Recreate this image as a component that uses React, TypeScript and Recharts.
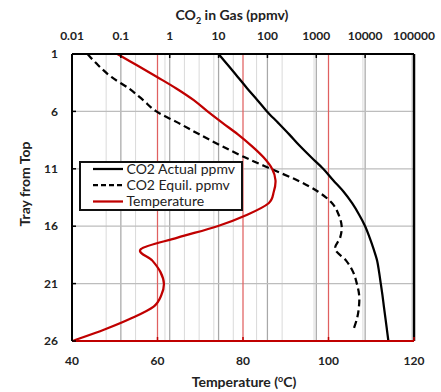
import React from 'react';
import { LineChart, Line, XAxis, YAxis, CartesianGrid, ReferenceLine, Legend } from 'recharts';

// Tray numbers (1 = top tray)
const trays = [1, 2, 3, 4, 5, 6, 7, 8, 9, 10, 11, 12, 13, 14, 15, 16, 17, 18, 19, 20, 21, 22, 23, 24, 25, 26];

// CO2 actual in gas, ppmv (trays 1-26)
const co2Actual = [10, 15.8, 24.7, 38.6, 61.8, 97.7, 166, 279, 458, 787, 1384, 2218, 3631, 5420, 7540, 10000, 12360, 14930, 17600, 19300, 20900, 22600, 24200, 26000, 27900, 29900];

// CO2 equilibrium, ppmv (trays 1-25)
const co2Equil = [0.0207, 0.0347, 0.064, 0.146, 0.282, 0.532, 1.5, 4.03, 11.4, 34.4, 117, 406, 1094, 2113, 2871, 3311, 3083, 2438, 4083, 5688, 6761, 7540, 7470, 6860, 5770];

// Temperature, degC (trays 1-26)
const temperature = [50.6, 55.3, 59.9, 64.4, 68.4, 71.7, 75.2, 78.8, 82.0, 84.8, 86.8, 87.6, 87.2, 86.0, 81.0, 74.0, 64.7, 56.1, 58.8, 60.7, 61.5, 60.9, 59.1, 54.0, 47.6, 40.1];

// Axis ticks
const co2Ticks = [0.01, 0.1, 1, 10, 100, 1000, 10000, 100000];
const tempTicks = [40, 60, 80, 100, 120];
const trayTicks = [1, 6, 11, 16, 21, 26];
const minorMultipliers = [2, 3, 4, 5, 6, 7, 8, 9];
const co2MinorTicks = co2Ticks.slice(0, -1).flatMap((d) => minorMultipliers.map((m) => d * m));

const actualRows = co2Actual.map((v, i) => ({ tray: trays[i], v }));
const equilRows = co2Equil.map((v, i) => ({ tray: trays[i], v }));
const tempRows = temperature.map((v, i) => ({ tray: trays[i], v }));

const FONT = 'Lato, "Open Sans", sans-serif';
const RED = '#c00000';
const TEXT = '#222';

const tickStyle = { fill: TEXT, fontSize: 12, fontWeight: 700, fontFamily: FONT };

// Spreadsheet-style smoothed line (uniform Catmull-Rom through the points)
const smoothCurve = (context: any) => {
  let pts: number[][] = [];
  return {
    areaStart() {},
    areaEnd() {},
    lineStart() {
      pts = [];
    },
    point(x: number, y: number) {
      pts.push([+x, +y]);
    },
    lineEnd() {
      const n = pts.length;
      if (n === 0) return;
      context.moveTo(pts[0][0], pts[0][1]);
      if (n === 1) return;
      for (let i = 0; i < n - 1; i++) {
        const p0 = pts[i - 1] || pts[i];
        const p1 = pts[i];
        const p2 = pts[i + 1];
        const p3 = pts[i + 2] || pts[i + 1];
        const c1x = p1[0] + (p2[0] - p0[0]) / 6;
        const c1y = p1[1] + (p2[1] - p0[1]) / 6;
        const c2x = p2[0] - (p3[0] - p1[0]) / 6;
        const c2y = p2[1] - (p3[1] - p1[1]) / 6;
        context.bezierCurveTo(c1x, c1y, c2x, c2y, p2[0], p2[1]);
      }
    },
  };
};

const LegendBox = () => (
  <svg width={164} height={50} style={{ display: 'block' }}>
    <rect x={1} y={1} width={162} height={48} fill="#fff" stroke="#111" strokeWidth={2} />
    <line x1={14} x2={44} y1={8} y2={8} stroke="#000" strokeWidth={2.25} />
    <line x1={14} x2={44} y1={24} y2={24} stroke="#000" strokeWidth={2.25} strokeDasharray="5 3" />
    <line x1={14} x2={44} y1={40.5} y2={40.5} stroke={RED} strokeWidth={2.25} />
    <text x={47.5} y={12.5} fontFamily={FONT} fontSize={14} fill={TEXT}>CO2 Actual ppmv</text>
    <text x={47.5} y={28.5} fontFamily={FONT} fontSize={14} fill={TEXT}>CO2 Equil. ppmv</text>
    <text x={47.5} y={45} fontFamily={FONT} fontSize={14} fill={TEXT}>Temperature</text>
  </svg>
);

export default function App() {
  return (
    <div style={{ position: 'fixed', left: 0, top: 0, width: 441, height: 392, background: '#fff' }}>
      <LineChart width={441} height={392} layout="vertical" margin={{ top: 24, right: 27, bottom: 21, left: 32 }}>
        <XAxis xAxisId="minor" type="number" scale="log" domain={[0.01, 100000]} allowDataOverflow ticks={co2MinorTicks} hide orientation="top" />
        <XAxis
          xAxisId="co2"
          orientation="top"
          type="number"
          scale="log"
          domain={[0.01, 100000]}
          allowDataOverflow
          ticks={co2Ticks}
          interval={0}
          tickFormatter={(v) => String(v)}
          height={30}
          axisLine={{ stroke: '#000', strokeWidth: 2 }}
          tickLine={{ stroke: '#000', strokeWidth: 1.5 }}
          tickSize={-4}
          tickMargin={18}
          tick={tickStyle}
          label={{
            content: (props: any) => {
              const vb = props.viewBox || { x: 72, y: 24, width: 342 };
              const cx = vb.x + vb.width / 2 - 11;
              return (
                <text x={cx} y={vb.y - 4} textAnchor="middle" fontFamily={FONT} fontSize={14} fontWeight={700} fill={TEXT}>
                  CO<tspan fontSize={9} dy={4}>2</tspan><tspan dy={-4}> in Gas (ppmv)</tspan>
                </text>
              );
            },
          }}
        />
        <XAxis
          xAxisId="temp"
          orientation="bottom"
          type="number"
          domain={[40, 120]}
          allowDataOverflow
          ticks={tempTicks}
          interval={0}
          height={30}
          axisLine={{ stroke: RED, strokeWidth: 2 }}
          tickLine={{ stroke: RED, strokeWidth: 1.5 }}
          tickSize={-4}
          tickMargin={19}
          tick={tickStyle}
          label={{
            content: (props: any) => {
              const vb = props.viewBox || { x: 72, y: 341, width: 342 };
              const cx = vb.x + vb.width / 2 + 1;
              return (
                <text x={cx} y={vb.y + 46} textAnchor="middle" fontFamily={FONT} fontSize={14} fontWeight={700} fill={TEXT}>
                  Temperature (<tspan fontSize={9} dy={-5}>o</tspan><tspan dy={5}>C)</tspan>
                </text>
              );
            },
          }}
        />
        <YAxis
          yAxisId="tray"
          type="number"
          dataKey="tray"
          domain={[1, 26]}
          allowDataOverflow
          ticks={trayTicks}
          interval={0}
          width={40}
          axisLine={{ stroke: '#000', strokeWidth: 2 }}
          tickLine={{ stroke: '#000', strokeWidth: 1.5 }}
          tickSize={-4}
          tickMargin={18}
          tick={tickStyle}
          label={{
            content: () => (
              <text x={30} y={184} transform="rotate(-90, 30, 184)" textAnchor="middle" fontFamily={FONT} fontSize={14} fontWeight={700} fill={TEXT}>
                Tray from Top
              </text>
            ),
          }}
        />
        <CartesianGrid xAxisId="minor" yAxisId="tray" horizontal={false} stroke="#dadada" strokeWidth={1} />
        <CartesianGrid xAxisId="co2" yAxisId="tray" horizontal={false} stroke="#a8a8a8" strokeWidth={1.25} />
        <CartesianGrid xAxisId="co2" yAxisId="tray" vertical={false} stroke="#bdbdbd" strokeWidth={1.25} />
        <CartesianGrid xAxisId="temp" yAxisId="tray" horizontal={false} stroke="#e06060" strokeWidth={1.25} />
        <ReferenceLine xAxisId="temp" yAxisId="tray" x={120} stroke="#000" strokeWidth={2.5} />
        <Line xAxisId="co2" yAxisId="tray" data={actualRows} dataKey="v" name="CO2 Actual ppmv" type={smoothCurve as any} stroke="#000" strokeWidth={2.25} dot={false} activeDot={false} isAnimationActive={false} />
        <Line xAxisId="co2" yAxisId="tray" data={equilRows} dataKey="v" name="CO2 Equil. ppmv" type={smoothCurve as any} stroke="#000" strokeWidth={2.25} strokeDasharray="7 4" dot={false} activeDot={false} isAnimationActive={false} />
        <Line xAxisId="temp" yAxisId="tray" data={tempRows} dataKey="v" name="Temperature" type={smoothCurve as any} stroke={RED} strokeWidth={2.25} dot={false} activeDot={false} isAnimationActive={false} />
        <Legend
          layout="vertical"
          align="center"
          verticalAlign="middle"
          wrapperStyle={{ left: 79, top: 161, width: 164, height: 50 }}
          content={() => <LegendBox />}
        />
      </LineChart>
    </div>
  );
}
